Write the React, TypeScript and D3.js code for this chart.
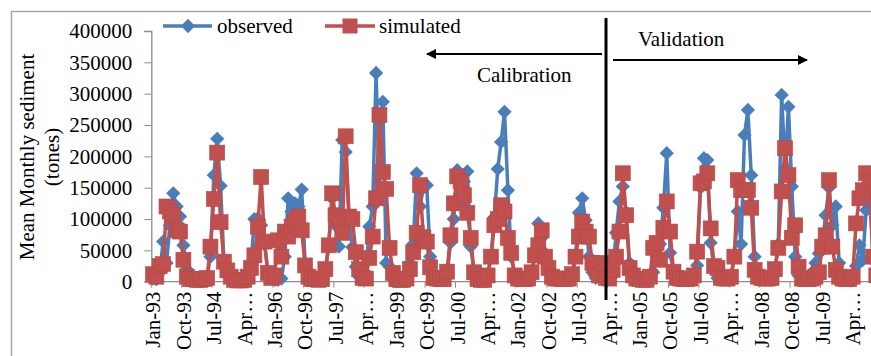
import React, { useEffect, useRef } from "react";
import * as d3 from "d3";

// monthly values, Jan-93 .. Dec-10, one row per year
const observed = [
  5000, 4000, 15000, 64000, 30000, 90000, 141000, 120000, 104000, 58000, 20000, 8000, // 1993
  3000, 2000, 2000, 3000, 8000, 40000, 170000, 228000, 153000, 30000, 10000, 4000, // 1994
  3000, 2000, 2000, 3000, 5000, 30000, 100000, 101000, 90000, 60000, 15000, 5000, // 1995
  3000, 3000, 5000, 40000, 133000, 112000, 125000, 120000, 147000, 30000, 10000, 5000, // 1996
  4000, 3000, 3000, 15000, 60000, 133000, 90000, 56000, 226000, 207000, 100000, 55000, // 1997
  24000, 8000, 5000, 10000, 88000, 120000, 333000, 140000, 287000, 30000, 24000, 8000, // 1998
  4000, 3000, 3000, 10000, 30000, 60000, 173000, 120000, 150000, 154000, 40000, 10000, // 1999
  4000, 3000, 3000, 8000, 62000, 100000, 178000, 125000, 160000, 176000, 56000, 15000, // 2000
  5000, 4000, 4000, 8000, 40000, 103000, 180000, 223000, 271000, 146000, 40000, 10000, // 2001
  5000, 4000, 4000, 6000, 15000, 40000, 93000, 70000, 45000, 20000, 8000, 5000, // 2002
  5000, 4000, 4000, 5000, 10000, 40000, 110000, 133000, 98000, 40000, 15000, 6000, // 2003
  8000, 5000, 4000, 5000, 10000, 78000, 128000, 152000, 110000, 30000, 10000, 5000, // 2004
  4000, 3000, 3000, 5000, 15000, 40000, 60000, 118000, 205000, 46000, 15000, 5000, // 2005
  4000, 3000, 3000, 5000, 10000, 26000, 150000, 197000, 194000, 62000, 20000, 6000, // 2006
  5000, 4000, 4000, 8000, 40000, 112000, 60000, 234000, 274000, 170000, 40000, 10000, // 2007
  6000, 4000, 4000, 5000, 20000, 60000, 298000, 181000, 279000, 152000, 40000, 10000, // 2008
  6000, 4000, 4000, 15000, 30000, 45000, 60000, 106000, 150000, 90000, 120000, 30000, // 2009
  5000, 4000, 4000, 10000, 25000, 58000, 35000, 114000, 150000, 35000, 10000, 5000, // 2010
];

const simulated = [
  12000, 8000, 25000, 28000, 120000, 112000, 106000, 82000, 80000, 35000, 8000, 4000, // 1993
  4000, 3000, 3000, 4000, 6000, 56000, 132000, 206000, 95000, 32000, 18000, 8000, // 1994
  3000, 2000, 2000, 3000, 8000, 22000, 42000, 88000, 167000, 64000, 14000, 6000, // 1995
  10000, 66000, 40000, 80000, 72000, 88000, 95000, 104000, 82000, 26000, 8000, 4000, // 1996
  4000, 3000, 4000, 20000, 58000, 141000, 106000, 100000, 78000, 232000, 104000, 100000, // 1997
  47000, 20000, 6000, 5000, 38000, 72000, 133000, 266000, 175000, 148000, 54000, 14000, // 1998
  4000, 3000, 3000, 5000, 20000, 47000, 78000, 154000, 71000, 64000, 23000, 6000, // 1999
  5000, 4000, 4000, 16000, 74000, 125000, 168000, 160000, 138000, 110000, 70000, 15000, // 2000
  4000, 3000, 3000, 10000, 40000, 90000, 100000, 122000, 112000, 70000, 46000, 10000, // 2001
  5000, 4000, 4000, 5000, 15000, 42000, 58000, 82000, 40000, 22000, 8000, 5000, // 2002
  5000, 4000, 4000, 5000, 12000, 40000, 72000, 96000, 80000, 72000, 30000, 21000, // 2003
  10000, 30000, 6000, 5000, 19000, 40000, 80000, 173000, 106000, 22000, 10000, 5000, // 2004
  4000, 3000, 3000, 8000, 54000, 62000, 35000, 86000, 128000, 80000, 16000, 6000, // 2005
  5000, 4000, 4000, 5000, 10000, 48000, 157000, 160000, 173000, 85000, 25000, 22000, // 2006
  6000, 5000, 5000, 8000, 40000, 162000, 146000, 146000, 146000, 118000, 19000, 8000, // 2007
  6000, 5000, 5000, 6000, 20000, 54000, 144000, 213000, 170000, 70000, 90000, 24000, // 2008
  5000, 4000, 4000, 5000, 8000, 15000, 56000, 74000, 162000, 56000, 19000, 8000, // 2009
  5000, 4000, 4000, 8000, 93000, 133000, 146000, 173000, 160000, 40000, 10000, 5000, // 2010
];

const months = d3.timeMonth.range(new Date(1993, 0, 1), new Date(2011, 0, 1));

const tickLabels = [
  "Jan-93", "Oct-93", "Jul-94", "Apr…", "Jan-96", "Oct-96", "Jul-97", "Apr…",
  "Jan-99", "Oct-99", "Jul-00", "Apr…", "Jan-02", "Oct-02", "Jul-03", "Apr…",
  "Jan-05", "Oct-05", "Jul-06", "Apr…", "Jan-08", "Oct-08", "Jul-09", "Apr…",
];

const yTicks = [0, 50000, 100000, 150000, 200000, 250000, 300000, 350000, 400000];

const BLUE = "#4a7ebb";
const RED = "#c0504d";
const FONT = "'Liberation Serif', 'Times New Roman', serif";

export default function App() {
  const ref = useRef<SVGSVGElement>(null);

  useEffect(() => {
    const width = 871;
    const height = 356;
    const svg = d3.select(ref.current);
    svg.selectAll("*").remove();
    svg.attr("width", width).attr("height", height);

    const left = 151.3;
    const step = 3.38;
    const x = d3
      .scaleBand<number>()
      .domain(months.map((_, i) => i))
      .range([left, left + months.length * step]);
    const cx = (i: number) => (x(i) as number) + x.bandwidth() / 2;
    const y = d3.scaleLinear().domain([0, 400000]).range([281.7, 31]);

    // chart area border
    svg
      .append("rect")
      .attr("x", 11.5)
      .attr("y", 11.5)
      .attr("width", 1000)
      .attr("height", 1000)
      .attr("fill", "white")
      .attr("stroke", "#a6a6a6")
      .attr("stroke-width", 1.5);

    // y axis
    const yAxis = d3.axisLeft(y).tickValues(yTicks).tickSize(7).tickPadding(12).tickFormat(d3.format("d"));
    const yG = svg.append("g").attr("transform", `translate(${left},0)`).call(yAxis);
    yG.select(".domain").attr("stroke", "#8c8c8c").attr("stroke-width", 1.3);
    yG.selectAll(".tick line").attr("stroke", "#8c8c8c");
    yG.selectAll(".tick text").attr("font-family", FONT).attr("font-size", 21).attr("fill", "#000");

    // x axis
    const xG = svg.append("g");
    xG.append("line")
      .attr("x1", left)
      .attr("x2", width)
      .attr("y1", y(0))
      .attr("y2", y(0))
      .attr("stroke", "#8c8c8c")
      .attr("stroke-width", 1.3);
    tickLabels.forEach((lab, k) => {
      const i = k * 9;
      xG.append("line")
        .attr("x1", x(i) as number)
        .attr("x2", x(i) as number)
        .attr("y1", y(0))
        .attr("y2", y(0) + 6)
        .attr("stroke", "#8c8c8c");
      xG.append("text")
        .attr("transform", `translate(${cx(i)},${y(0) + 10}) rotate(-90)`)
        .attr("text-anchor", "end")
        .attr("dy", "0.35em")
        .attr("font-family", FONT)
        .attr("font-size", 21)
        .text(lab);
    });

    // y title
    const yt = svg.append("g").attr("font-family", FONT).attr("font-size", 21).attr("text-anchor", "middle");
    yt.append("text").attr("transform", "translate(34,157) rotate(-90)").text("Mean Monthly sediment");
    yt.append("text").attr("transform", "translate(59,157) rotate(-90)").text("(tones)");

    const diamond = d3.symbol().type(d3.symbolDiamond2).size(130);
    const drawSeries = (vals: number[], color: string, marker: "diamond" | "square") => {
      const line = d3
        .line<number>()
        .x((_, i) => cx(i))
        .y((d) => y(d));
      svg
        .append("path")
        .datum(vals)
        .attr("d", line)
        .attr("fill", "none")
        .attr("stroke", color)
        .attr("stroke-width", 3.5)
        .attr("stroke-linejoin", "round");
      const g = svg.append("g").attr("fill", color);
      vals.forEach((v, i) => {
        if (marker === "diamond") {
          g.append("path")
            .attr("d", diamond()!)
            .attr("transform", `translate(${cx(i)},${y(v)})`);
        } else {
          g.append("rect")
            .attr("x", cx(i) - 7.5)
            .attr("y", y(v) - 7.5)
            .attr("width", 15)
            .attr("height", 15)
            .attr("stroke", "#b84a47")
            .attr("stroke-width", 0.6);
        }
      });
    };
    drawSeries(observed, BLUE, "diamond");
    drawSeries(simulated, RED, "square");

    // calibration / validation split
    const ann = svg.append("g");
    ann.append("line").attr("x1", 606).attr("x2", 606).attr("y1", 18).attr("y2", 300).attr("stroke", "#000").attr("stroke-width", 3);
    svg
      .append("defs")
      .append("marker")
      .attr("id", "arr")
      .attr("viewBox", "0 0 10 10")
      .attr("refX", 9)
      .attr("refY", 5)
      .attr("markerWidth", 5)
      .attr("markerHeight", 5)
      .attr("orient", "auto")
      .append("path")
      .attr("d", "M0,0 L10,5 L0,10 Z")
      .attr("fill", "#000");
    ann.append("line").attr("x1", 602).attr("x2", 427).attr("y1", 54).attr("y2", 54).attr("stroke", "#000").attr("stroke-width", 2).attr("marker-end", "url(#arr)");
    ann.append("line").attr("x1", 613).attr("x2", 807).attr("y1", 60).attr("y2", 60).attr("stroke", "#000").attr("stroke-width", 2).attr("marker-end", "url(#arr)");
    ann.append("text").attr("x", 477).attr("y", 82).attr("font-family", FONT).attr("font-size", 21).text("Calibration");
    ann.append("text").attr("x", 638).attr("y", 46).attr("font-family", FONT).attr("font-size", 21).text("Validation");

    // legend
    const lg = svg.append("g").attr("font-family", FONT).attr("font-size", 21);
    lg.append("line").attr("x1", 163).attr("x2", 212).attr("y1", 26).attr("y2", 26).attr("stroke", BLUE).attr("stroke-width", 3.5);
    lg.append("path").attr("d", diamond()!).attr("transform", "translate(188,26)").attr("fill", BLUE);
    lg.append("text").attr("x", 217).attr("y", 26).attr("dy", "0.33em").text("observed");
    lg.append("line").attr("x1", 325).attr("x2", 375).attr("y1", 26).attr("y2", 26).attr("stroke", RED).attr("stroke-width", 3.5);
    lg.append("rect").attr("x", 342.5).attr("y", 18.5).attr("width", 15).attr("height", 15).attr("fill", RED);
    lg.append("text").attr("x", 379).attr("y", 26).attr("dy", "0.33em").text("simulated");
  }, []);

  return <svg ref={ref} style={{ position: "absolute", left: 0, top: 0, display: "block" }} />;
}
